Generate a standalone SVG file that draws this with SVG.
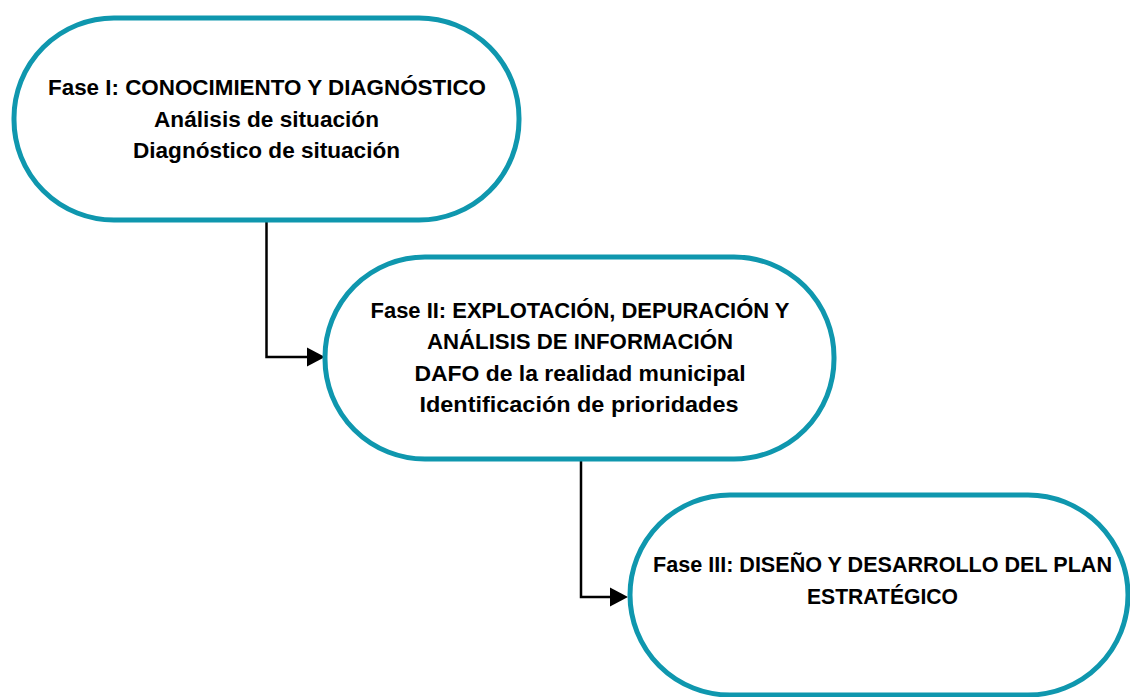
<svg xmlns="http://www.w3.org/2000/svg" width="1130" height="697" viewBox="0 0 1130 697">
<defs>
<style>
.node{fill:#ffffff;stroke:#0f97ae;stroke-width:5}
.lbl{font-family:"Liberation Sans",Arial,sans-serif;font-weight:bold;font-size:22.5px;fill:#000000;text-anchor:middle}
.conn{fill:none;stroke:#000000;stroke-width:2.5}
</style>
<marker id="arr" viewBox="0 -10 20 20" refX="1" refY="0" markerWidth="20" markerHeight="20" markerUnits="userSpaceOnUse" orient="auto">
<path d="M0,-9.5 L18,0 L0,9.5 z" fill="#000000"/>
</marker>
</defs>
<rect width="1130" height="697" fill="#ffffff"/>
<g id="connectors">
<path class="conn" d="M266.5,220 V357 H308" marker-end="url(#arr)"/>
<path class="conn" d="M581,459 V597 H611" marker-end="url(#arr)"/>
</g>
<g id="fase1">
<rect class="node" x="14" y="18" width="505" height="202" rx="100" ry="100"/>
<text class="lbl" x="267" y="95" textLength="438" lengthAdjust="spacingAndGlyphs">Fase I: CONOCIMIENTO Y DIAGNÓSTICO</text>
<text class="lbl" x="266.5" y="127" textLength="225" lengthAdjust="spacingAndGlyphs">Análisis de situación</text>
<text class="lbl" x="266.5" y="158" textLength="267" lengthAdjust="spacingAndGlyphs">Diagnóstico de situación</text>
</g>
<g id="fase2">
<rect class="node" x="325" y="257" width="509" height="202" rx="100" ry="100"/>
<text class="lbl" x="580" y="318" textLength="419" lengthAdjust="spacingAndGlyphs">Fase II: EXPLOTACIÓN, DEPURACIÓN Y</text>
<text class="lbl" x="580" y="349" textLength="306" lengthAdjust="spacingAndGlyphs">ANÁLISIS DE INFORMACIÓN</text>
<text class="lbl" x="580" y="381" textLength="331" lengthAdjust="spacingAndGlyphs">DAFO de la realidad municipal</text>
<text class="lbl" x="579" y="412" textLength="319" lengthAdjust="spacingAndGlyphs">Identificación de prioridades</text>
</g>
<g id="fase3">
<rect class="node" x="630" y="495" width="498" height="200" rx="100" ry="100"/>
<text class="lbl" x="882.5" y="572" textLength="459" lengthAdjust="spacingAndGlyphs">Fase III: DISEÑO Y DESARROLLO DEL PLAN</text>
<text class="lbl" x="882.5" y="604" textLength="151" lengthAdjust="spacingAndGlyphs">ESTRATÉGICO</text>
</g>
</svg>
